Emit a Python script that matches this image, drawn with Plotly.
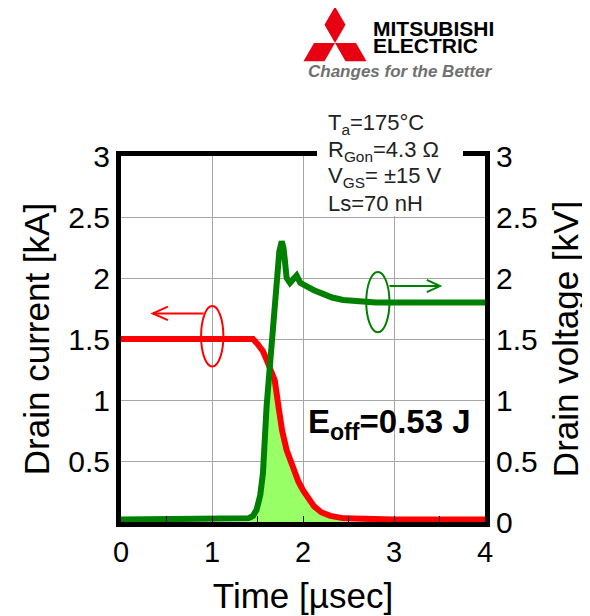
import plotly.graph_objects as go

# ---------------- data ----------------
t_current = [0, 0.5, 1.0, 1.35, 1.45, 1.5, 1.56, 1.6, 1.65, 1.69, 1.73, 1.77, 1.82, 1.89,
             1.95, 2.0, 2.06, 2.12, 2.2, 2.3, 2.45, 2.7, 3.0, 3.5, 4.0]
drain_current_kA = [1.50, 1.50, 1.51, 1.51, 1.50, 1.46, 1.40, 1.33, 1.25, 1.16, 0.95, 0.75,
                    0.59, 0.43, 0.33, 0.26, 0.19, 0.13, 0.08, 0.05, 0.03, 0.02, 0.02, 0.02, 0.02]

t_voltage = [0, 0.5, 1.0, 1.3, 1.4, 1.45, 1.49, 1.53, 1.56, 1.6, 1.64, 1.685, 1.71, 1.74,
             1.766, 1.785, 1.80, 1.82, 1.857, 1.9, 1.93, 1.97, 2.04, 2.12, 2.22, 2.32, 2.44,
             2.6, 2.8, 3.2, 3.6, 4.0]
drain_voltage_kV = [0.02, 0.02, 0.02, 0.02, 0.03, 0.05, 0.10, 0.22, 0.40, 0.95, 1.35, 1.66,
                    1.98, 2.22, 2.30, 2.25, 2.15, 2.00, 1.96, 1.99, 2.02, 1.96, 1.93, 1.90,
                    1.87, 1.84, 1.82, 1.81, 1.80, 1.80, 1.80, 1.80]

# switching-loss (Eoff) shaded region outline
t_loss = [1.42, 1.49, 1.53, 1.56, 1.6, 1.63, 1.66, 1.69, 1.73, 1.77, 1.82, 1.89, 1.95, 2.0,
          2.06, 2.12, 2.2, 2.3, 2.45]
loss_level = [0.02, 0.10, 0.22, 0.40, 0.95, 1.28, 1.22, 1.16, 0.95, 0.75, 0.59, 0.43, 0.33,
              0.26, 0.19, 0.13, 0.08, 0.05, 0.03]

x_ticks = [0, 1, 2, 3, 4]
y_left_ticks = [0.5, 1, 1.5, 2, 2.5, 3]
y_right_ticks = [0, 0.5, 1, 1.5, 2, 2.5, 3]

conditions = ["T<sub>a</sub>=175°C", "R<sub>Gon</sub>=4.3 Ω",
              "V<sub>GS</sub>= ±15 V", "Ls=70 nH"]
eoff_label = "E<sub>off</sub>=0.53 J"

# ---------------- layout geometry ----------------
# the page body adds an 8px margin, so the figure is placed at (8, 8)
OFF = 8
W, H = 590 - OFF, 616 - OFF
PL, PT, PR, PB = 121, 156, 485, 522          # plot area in page pixels
PW, PH = PR - PL, PB - PT
ML, MT = PL - OFF, PT - OFF
MR, MB = W - ML - PW, H - MT - PH
FONT = "Arial, 'Liberation Sans', sans-serif"


def px(xp):
    return (xp - PL) / PW


def py(yp):
    return 1 - (yp - PT) / PH


fig = go.Figure()

fig.add_trace(go.Scatter(x=t_loss, y=loss_level, mode="lines", fill="tozeroy",
                         fillcolor="#99FF66", line=dict(width=0, color="#99FF66"),
                         hoverinfo="skip", showlegend=False))
fig.add_trace(go.Scatter(x=t_current, y=drain_current_kA, mode="lines",
                         line=dict(color="#FF0000", width=6), name="Drain current",
                         showlegend=False))
fig.add_trace(go.Scatter(x=t_voltage, y=drain_voltage_kV, mode="lines", yaxis="y2",
                         line=dict(color="#008000", width=6), name="Drain voltage",
                         showlegend=False))

shapes = []
# red ring + arrow (current -> left axis)
shapes.append(dict(type="circle", xref="x", yref="y", x0=0.88, x1=1.125, y0=1.275, y1=1.77,
                   line=dict(color="#FF0000", width=2)))
shapes.append(dict(type="path", xref="x", yref="y", path="M 0.905,1.71 L 0.35,1.71",
                   line=dict(color="#FF0000", width=2)))
shapes.append(dict(type="path", xref="x", yref="y",
                   path="M 0.515,1.765 L 0.35,1.71 L 0.515,1.655",
                   line=dict(color="#FF0000", width=2)))
# green ring + arrow (voltage -> right axis)
shapes.append(dict(type="circle", xref="x", yref="y", x0=2.695, x1=2.95, y0=1.555, y1=2.05,
                   line=dict(color="#008000", width=2)))
shapes.append(dict(type="path", xref="x", yref="y", path="M 2.95,1.934 L 3.505,1.934",
                   line=dict(color="#008000", width=2)))
shapes.append(dict(type="path", xref="x", yref="y",
                   path="M 3.36,1.984 L 3.505,1.934 L 3.36,1.884",
                   line=dict(color="#008000", width=2)))
# white backing of the conditions block (interrupts the top frame)
shapes.append(dict(type="rect", xref="paper", yref="paper", x0=px(317), x1=px(463),
                   y0=py(216), y1=py(100), fillcolor="white", line=dict(width=0),
                   layer="above"))

# Mitsubishi three-diamond mark
cx, cy, s, h = 335, 43, 21, 18.2
diamonds = [
    [(cx, cy), (cx + s / 2, cy - h), (cx, cy - 2 * h), (cx - s / 2, cy - h)],
    [(cx, cy), (cx - s, cy), (cx - 1.5 * s, cy + h), (cx - s / 2, cy + h)],
    [(cx, cy), (cx + s, cy), (cx + 1.5 * s, cy + h), (cx + s / 2, cy + h)],
]
for d in diamonds:
    path = "M " + " L ".join(f"{px(a):.5f},{py(b):.5f}" for a, b in d) + " Z"
    shapes.append(dict(type="path", xref="paper", yref="paper", path=path,
                       fillcolor="#E60012", line=dict(width=0)))

annotations = []
for line_text, yc in zip(conditions, [124, 151, 177, 203]):
    annotations.append(dict(text=line_text, xref="paper", yref="paper", x=px(326), y=py(yc),
                            xanchor="left", yanchor="middle", align="left", showarrow=False,
                            font=dict(family=FONT, size=22, color="#222222")))
annotations += [
    dict(text=f"<b>{eoff_label}</b>", xref="x", yref="y", x=2.955, y=0.80,
         xanchor="center", yanchor="middle", showarrow=False,
         font=dict(family=FONT, size=33, color="black")),
    dict(text="<b>MITSUBISHI</b>", xref="paper", yref="paper", x=px(371), y=py(29),
         xanchor="left", yanchor="middle", showarrow=False,
         font=dict(family=FONT, size=21, color="black")),
    dict(text="<b>ELECTRIC</b>", xref="paper", yref="paper", x=px(371), y=py(46),
         xanchor="left", yanchor="middle", showarrow=False,
         font=dict(family=FONT, size=21, color="black")),
    dict(text="<b><i>Changes for the Better</i></b>", xref="paper", yref="paper",
         x=px(306), y=py(72), xanchor="left", yanchor="middle", showarrow=False,
         font=dict(family=FONT, size=17, color="#707070")),
]

fig.update_layout(
    width=W, height=H,
    margin=dict(l=ML, r=MR, t=MT, b=MB, autoexpand=False),
    paper_bgcolor="white", plot_bgcolor="white",
    font=dict(family=FONT, color="black"),
    shapes=shapes, annotations=annotations,
    xaxis=dict(range=[0, 4], tickvals=x_ticks, showgrid=True, gridcolor="#A6A6A6",
               gridwidth=1, zeroline=False, showline=True, linecolor="black", linewidth=5,
               mirror=True, ticks="inside", ticklen=0,
               minor=dict(dtick=0.5, ticks="inside", ticklen=6, tickcolor="black",
                          showgrid=False),
               tickfont=dict(size=29),
               title=dict(text="Time [µsec]", font=dict(size=35), standoff=18)),
    yaxis=dict(range=[0, 3], tickvals=y_left_ticks, showgrid=True, gridcolor="#A6A6A6",
               gridwidth=1, zeroline=False, showline=True, linecolor="black", linewidth=5,
               ticks="", tickfont=dict(size=30),
               title=dict(text="Drain current [kA]", font=dict(size=35), standoff=10)),
    yaxis2=dict(range=[0, 3], tickvals=y_right_ticks, overlaying="y", side="right",
                showgrid=False, zeroline=False, showline=True, linecolor="black",
                linewidth=5, ticks="", tickfont=dict(size=30),
                title=dict(text="Drain voltage [kV]", font=dict(size=35), standoff=18)),
)

fig.write_html("out.html")
